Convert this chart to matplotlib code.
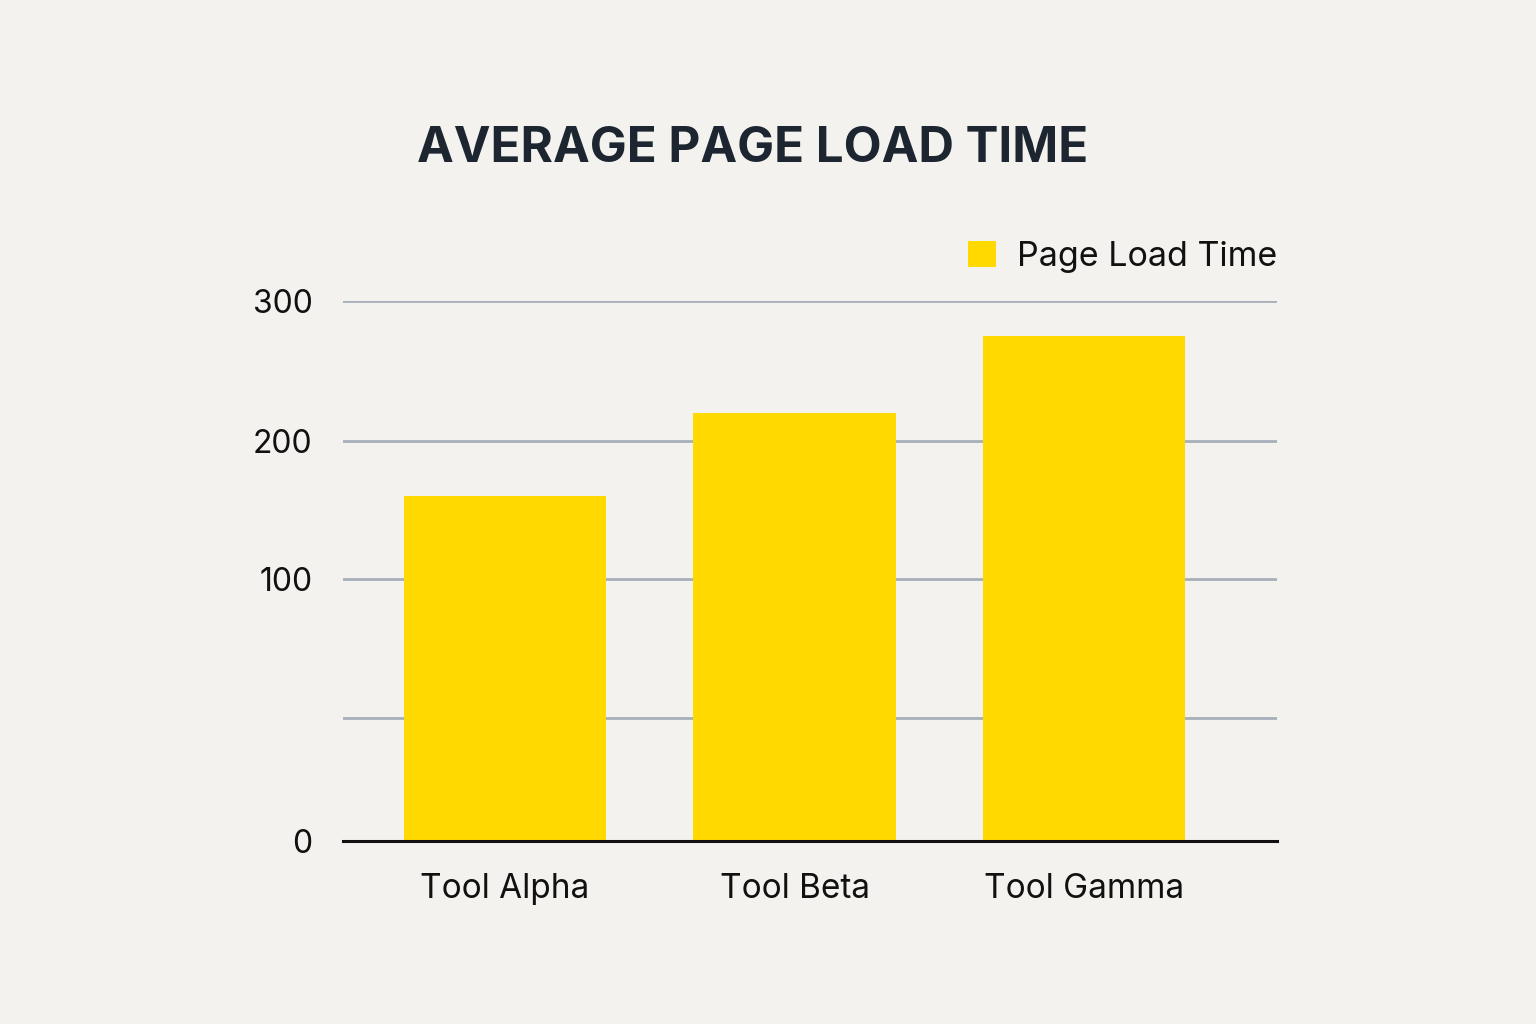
import numpy as np
import matplotlib
matplotlib.use("Agg")
from matplotlib import pyplot as plt
from matplotlib.patches import Patch

# data
tools = ["Tool Alpha", "Tool Beta", "Tool Gamma"]
load_time = [160, 220, 275]
ytick_vals = [0, 50, 100, 200, 300]
ytick_labels = ["0", "", "100", "200", "300"]

# the source chart's y axis is not linear: map values onto the drawn gridline heights
knots_v = np.array([0, 50, 100, 200, 300])
knots_px = np.array([0, 123, 262, 400, 540])

def fwd(v):
    return np.interp(v, knots_v, knots_px)

def inv(p):
    return np.interp(p, knots_px, knots_v)

plt.rcParams['font.family'] = ['Inter', 'DejaVu Sans']

bg = "#f3f2ee"
fig = plt.figure(figsize=(15.36, 10.24), dpi=100, facecolor=bg)
ax = fig.add_axes([343 / 1536, 1 - 841 / 1024, 934 / 1536, 540 / 1024])
ax.set_facecolor(bg)
ax.set_yscale("function", functions=(fwd, inv))

x = np.arange(len(tools))
ax.bar(x, load_time, width=0.70, color="#ffd900", zorder=3)

ax.set_xlim(-0.56, 2.667)
ax.set_ylim(0, 300)
ax.set_yticks(ytick_vals)
ax.set_yticklabels(ytick_labels)
ax.set_xticks(x)
ax.set_xticklabels(tools)
ax.tick_params(axis="y", length=0, pad=22, labelsize=23, labelcolor="#111111")
ax.tick_params(axis="x", length=0, pad=23, labelsize=24, labelcolor="#111111")
ax.yaxis.grid(True, color="#a7afbb", linewidth=2, zorder=0)
ax.minorticks_off()

for s in ["top", "right", "left"]:
    ax.spines[s].set_visible(False)
ax.spines["bottom"].set_linewidth(2.2)
ax.spines["bottom"].set_color("#111111")
ax.spines["bottom"].set_zorder(4)

fig.text(753 / 1536, 1 - 149 / 1024, "AVERAGE PAGE LOAD TIME", ha="center", va="center",
         fontsize=35.5, fontweight="bold", color="#1c2530")

leg = ax.legend(handles=[Patch(facecolor="#ffd900", edgecolor="none", label="Page Load Time")],
                loc="lower right", bbox_to_anchor=(1.0, 1.052), frameon=False, fontsize=24.5,
                handlelength=0.82, handleheight=0.82, handletextpad=0.6, borderpad=0, borderaxespad=0)
for t in leg.get_texts():
    t.set_color("#111111")

plt.savefig("out.png", dpi=100, facecolor=bg)
